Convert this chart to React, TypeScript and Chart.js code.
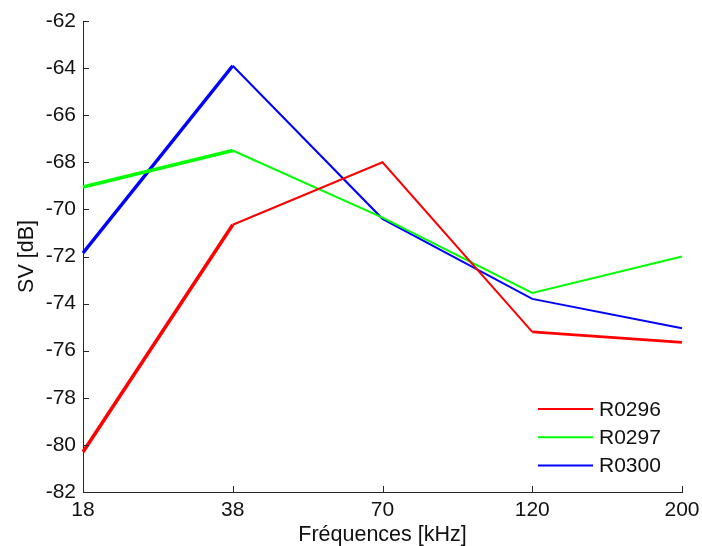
import React, { useEffect, useRef } from "react";
import { Chart, registerables } from "chart.js";

Chart.register(...registerables);

const categories = ["18", "38", "70", "120", "200"];
const seriesNames = ["R0296", "R0297", "R0300"];
const r0296 = [-80.3, -70.65, -68.0, -75.2, -75.65];
const r0297 = [-69.05, -67.5, -70.35, -73.55, -72.0];
const r0300 = [-71.85, -63.9, -70.4, -73.8, -75.05];
const seriesColors = ["#ff0000", "#00ff00", "#0000ff"];
const yMin = -82;
const yMax = -62;
const yStep = 2;

const AXIS_COLOR = "#262626";
const FONT = "Arial, 'Liberation Sans', sans-serif";
const FS = 21;

const innerTicks = {
  id: "innerTicks",
  afterDraw(chart: any) {
    const { ctx, chartArea, scales } = chart;
    ctx.save();
    ctx.strokeStyle = AXIS_COLOR;
    ctx.lineWidth = 1;
    const len = 6;
    scales.y.ticks.forEach((t: any) => {
      const y = Math.round(scales.y.getPixelForValue(t.value)) + 0.5;
      ctx.beginPath();
      ctx.moveTo(chartArea.left, y);
      ctx.lineTo(chartArea.left + len, y);
      ctx.stroke();
    });
    scales.x.ticks.forEach((t: any, i: number) => {
      const x = Math.round(scales.x.getPixelForValue(i)) + 0.5;
      ctx.beginPath();
      ctx.moveTo(x, chartArea.bottom);
      ctx.lineTo(x, chartArea.bottom - len);
      ctx.stroke();
    });
    ctx.restore();
  },
};

const innerLegend = {
  id: "innerLegend",
  afterDraw(chart: any) {
    const { ctx } = chart;
    ctx.save();
    ctx.font = `${FS}px ${FONT}`;
    ctx.textBaseline = "middle";
    ctx.textAlign = "left";
    chart.data.datasets.forEach((ds: any, i: number) => {
      const y = 409 + i * 28.3;
      ctx.strokeStyle = ds.borderColor;
      ctx.lineWidth = 2;
      ctx.beginPath();
      ctx.moveTo(538, y);
      ctx.lineTo(593, y);
      ctx.stroke();
      ctx.fillStyle = "#111";
      ctx.fillText(ds.label, 599, y + 1);
    });
    ctx.restore();
  },
};

export default function App() {
  const ref = useRef<HTMLCanvasElement>(null);
  useEffect(() => {
    if (!ref.current) return;
    const allSeries = [r0296, r0297, r0300];
    const chart = new Chart(ref.current, {
      type: "line",
      data: {
        labels: categories,
        datasets: allSeries.map((d, i) => ({
          label: seriesNames[i],
          data: d,
          borderColor: seriesColors[i],
          backgroundColor: seriesColors[i],
          borderWidth: 2,
          pointRadius: 0,
          tension: 0,
          fill: false,
          segment: {
            borderWidth: (c: any) =>
              c.p0DataIndex === 0 ? 3.5 : i === 0 && c.p0DataIndex === 3 ? 2.8 : 2,
          },
        })),
      },
      options: {
        animation: false,
        responsive: false,
        maintainAspectRatio: false,
        layout: { padding: { top: 21, right: 20, left: 0, bottom: 0 } },
        plugins: {
          legend: { display: false },
          tooltip: { enabled: false },
        },
        scales: {
          x: {
            type: "category",
            offset: false,
            grid: { display: false, drawTicks: false, tickLength: 0 },
            border: { display: true, color: AXIS_COLOR, width: 1 },
            ticks: {
              color: "#111",
              font: { size: FS, family: FONT },
              padding: 6,
              maxRotation: 0,
              autoSkip: false,
            },
            title: {
              display: true,
              text: "Fréquences [kHz]",
              color: "#111",
              font: { size: 21.5, family: FONT, lineHeight: 1 },
              padding: 0,
            },
            afterFit: (s: any) => {
              s.height = 54;
              s.paddingLeft = 0;
              s.paddingRight = 0;
            },
          },
          y: {
            min: yMin,
            max: yMax,
            grid: { display: false, drawTicks: false, tickLength: 0 },
            border: { display: true, color: AXIS_COLOR, width: 1 },
            ticks: {
              stepSize: yStep,
              color: "#111",
              font: { size: FS, family: FONT },
              padding: 7,
            },
            title: {
              display: true,
              text: "SV [dB]",
              color: "#111",
              font: { size: 21.5, family: FONT, lineHeight: 1 },
              padding: { top: 16, bottom: 0 },
            },
            afterFit: (s: any) => {
              s.width = 83;
              s.paddingTop = 0;
              s.paddingBottom = 0;
            },
          },
        },
      },
      plugins: [innerTicks, innerLegend],
    });
    return () => chart.destroy();
  }, []);
  return (
    <div style={{ position: "absolute", left: 0, top: 0, width: 702, height: 546, background: "#fff" }}>
      <canvas ref={ref} width={702} height={546} style={{ width: 702, height: 546, display: "block" }} />
    </div>
  );
}
